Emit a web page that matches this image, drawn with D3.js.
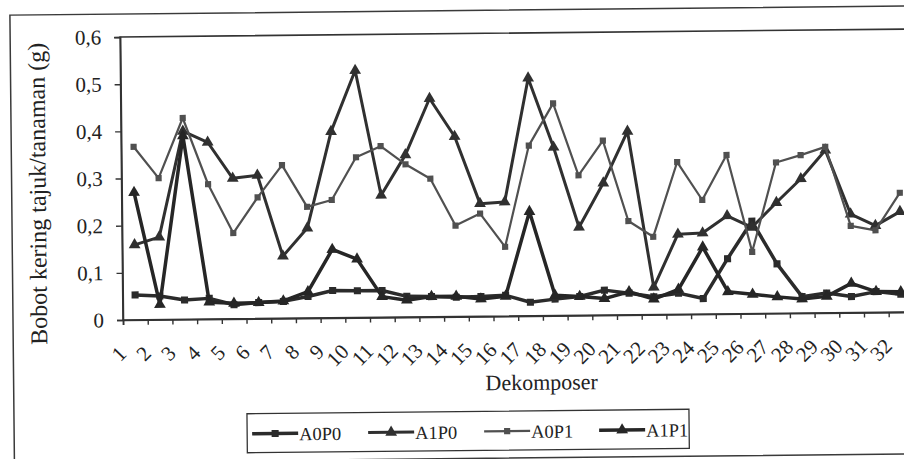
<!DOCTYPE html>
<html>
<head>
<meta charset="utf-8">
<script src="https://cdn.jsdelivr.net/npm/d3@7"></script>
<style>
body { margin: 0; background: #fff; }
svg { display: block; }
svg text { font-family: "Liberation Serif", "Times New Roman", "DejaVu Serif", serif; }
</style>
</head>
<body>
<svg id="chart"></svg>
<script>
var categories = d3.range(1, 33).map(String);
var yTicks = [0, 0.1, 0.2, 0.3, 0.4, 0.5, 0.6];
var seriesNames = ["A0P0", "A1P0", "A0P1", "A1P1"];

var a0p0 = [0.053, 0.05, 0.041, 0.044, 0.03, 0.034, 0.036, 0.046, 0.058, 0.057, 0.057, 0.044,
    0.043, 0.041, 0.042, 0.044, 0.029, 0.035, 0.04, 0.053, 0.046, 0.038, 0.045, 0.033,
    0.117, 0.196, 0.105, 0.035, 0.042, 0.034, 0.044, 0.038];
var a1p0 = [0.159, 0.175, 0.399, 0.375, 0.298, 0.304, 0.132, 0.191, 0.395, 0.524, 0.259, 0.344,
    0.463, 0.382, 0.239, 0.242, 0.504, 0.357, 0.187, 0.28, 0.389, 0.058, 0.17, 0.172,
    0.208, 0.183, 0.235, 0.285, 0.345, 0.209, 0.184, 0.213];
var a0p1 = [0.367, 0.30, 0.427, 0.286, 0.182, 0.257, 0.325, 0.236, 0.25, 0.34, 0.363, 0.324,
    0.293, 0.193, 0.218, 0.147, 0.361, 0.45, 0.297, 0.37, 0.199, 0.165, 0.323, 0.242,
    0.337, 0.131, 0.32, 0.335, 0.352, 0.184, 0.174, 0.253];
var a1p1 = [0.27, 0.032, 0.389, 0.036, 0.033, 0.034, 0.037, 0.056, 0.145, 0.124, 0.044, 0.036,
    0.043, 0.043, 0.037, 0.042, 0.221, 0.043, 0.04, 0.035, 0.049, 0.033, 0.053, 0.142,
    0.047, 0.041, 0.035, 0.03, 0.035, 0.062, 0.044, 0.043];

var series = [
    {name: seriesNames[0], values: a0p0, color: "#2b2b2b", width: 3.5, symbol: d3.symbolSquare, size: 50},
    {name: seriesNames[1], values: a1p0, color: "#303030", width: 3, symbol: d3.symbolTriangle, size: 60},
    {name: seriesNames[2], values: a0p1, color: "#505050", width: 2.2, symbol: d3.symbolSquare, size: 38},
    {name: seriesNames[3], values: a1p1, color: "#262626", width: 3.5, symbol: d3.symbolTriangle, size: 60}
];

var width = 904, height = 459;
var plotLeft = 123, plotTop = 37, plotBottom = 320, band = 24.7;
var serif = "Liberation Serif, Times New Roman, DejaVu Serif, serif";

var svg = d3.select("#chart")
    .attr("width", width)
    .attr("height", height);

svg.append("rect").attr("width", width).attr("height", height).attr("fill", "#fff");

// the scan is slightly tilted
var g = svg.append("g")
    .attr("font-family", serif)
    .attr("transform", "rotate(-0.58," + plotLeft + "," + plotBottom + ")");

g.append("rect")
    .attr("x", 13).attr("y", 14)
    .attr("width", 930).attr("height", 448)
    .attr("fill", "none")
    .attr("stroke", "#3a3a3a")
    .attr("stroke-width", 1.5);

var xl = d3.scaleLinear()
    .domain([0, categories.length])
    .range([plotLeft, plotLeft + categories.length * band]);
var y = d3.scaleLinear()
    .domain([0, 0.6])
    .range([plotBottom, plotTop]);

g.append("rect")
    .attr("x", plotLeft).attr("y", plotTop)
    .attr("width", xl(categories.length) - plotLeft)
    .attr("height", plotBottom - plotTop)
    .attr("fill", "none")
    .attr("stroke", "#333")
    .attr("stroke-width", 1.6);

var yAxis = g.append("g")
    .attr("transform", "translate(" + plotLeft + ",0)")
    .call(d3.axisLeft(y).tickValues(yTicks).tickSize(6).tickPadding(13)
        .tickFormat(function (d) {
            return d === 0 ? "0" : d3.format(".1f")(d).replace(".", ",");
        }));
yAxis.attr("font-family", serif).attr("font-size", 21);
yAxis.select(".domain").attr("stroke", "#333").attr("stroke-width", 1.6);
yAxis.selectAll(".tick line").attr("stroke", "#333").attr("stroke-width", 1.4);
yAxis.selectAll(".tick text").attr("fill", "#222");

var xAxis = g.append("g")
    .attr("transform", "translate(0," + plotBottom + ")")
    .call(d3.axisBottom(xl).tickValues(d3.range(0, categories.length + 1)).tickSize(5).tickFormat(""));
xAxis.select(".domain").attr("stroke", "#333").attr("stroke-width", 1.6);
xAxis.selectAll(".tick line").attr("stroke", "#333").attr("stroke-width", 1.4);

g.append("g").selectAll("text")
    .data(categories)
    .enter().append("text")
    .attr("transform", function (d, i) {
        return "translate(" + (xl(i + 0.5) - 8) + ",355) rotate(-45)";
    })
    .attr("text-anchor", "end")
    .attr("fill", "#222")
    .attr("font-size", 21)
    .text(function (d) { return d; });

g.append("text")
    .attr("x", 541).attr("y", 394)
    .attr("text-anchor", "middle")
    .attr("fill", "#222")
    .attr("font-size", 22)
    .text("Dekomposer");

g.append("text")
    .attr("transform", "translate(47,193) rotate(-90)")
    .attr("text-anchor", "middle")
    .attr("fill", "#222")
    .attr("font-size", 24)
    .text("Bobot kering tajuk/tanaman (g)");

var line = d3.line()
    .x(function (d, i) { return xl(i + 0.5); })
    .y(function (d) { return y(d); });

var sg = g.selectAll(".series")
    .data(series)
    .enter().append("g")
    .attr("class", "series");

sg.append("path")
    .attr("d", function (s) { return line(s.values); })
    .attr("fill", "none")
    .attr("stroke", function (s) { return s.color; })
    .attr("stroke-width", function (s) { return s.width; })
    .attr("stroke-linejoin", "round");

sg.each(function (s) {
    d3.select(this).selectAll("path.mark")
        .data(s.values)
        .enter().append("path")
        .attr("class", "mark")
        .attr("d", d3.symbol().type(s.symbol).size(s.size))
        .attr("transform", function (d, i) {
            return "translate(" + xl(i + 0.5) + "," + y(d) + ")";
        })
        .attr("fill", s.color);
});

// legend
var legendX = [251, 367, 483, 598];
var legend = g.append("g");
legend.append("rect")
    .attr("x", 246).attr("y", 415)
    .attr("width", 442).attr("height", 39)
    .attr("fill", "#fff")
    .attr("stroke", "#333")
    .attr("stroke-width", 1.3);

var item = legend.selectAll(".item")
    .data(series)
    .enter().append("g")
    .attr("class", "item")
    .attr("transform", function (d, i) { return "translate(" + legendX[i] + ",435)"; });
item.append("line")
    .attr("x1", 0).attr("x2", 46)
    .attr("stroke", function (s) { return s.color; })
    .attr("stroke-width", function (s) { return s.width; });
item.append("path")
    .attr("d", function (s) { return d3.symbol().type(s.symbol).size(s.size)(); })
    .attr("transform", "translate(23,0)")
    .attr("fill", function (s) { return s.color; });
item.append("text")
    .attr("x", 47).attr("y", 7)
    .attr("fill", "#222")
    .attr("font-size", 18.5)
    .text(function (s) { return s.name; });
</script>
</body>
</html>
